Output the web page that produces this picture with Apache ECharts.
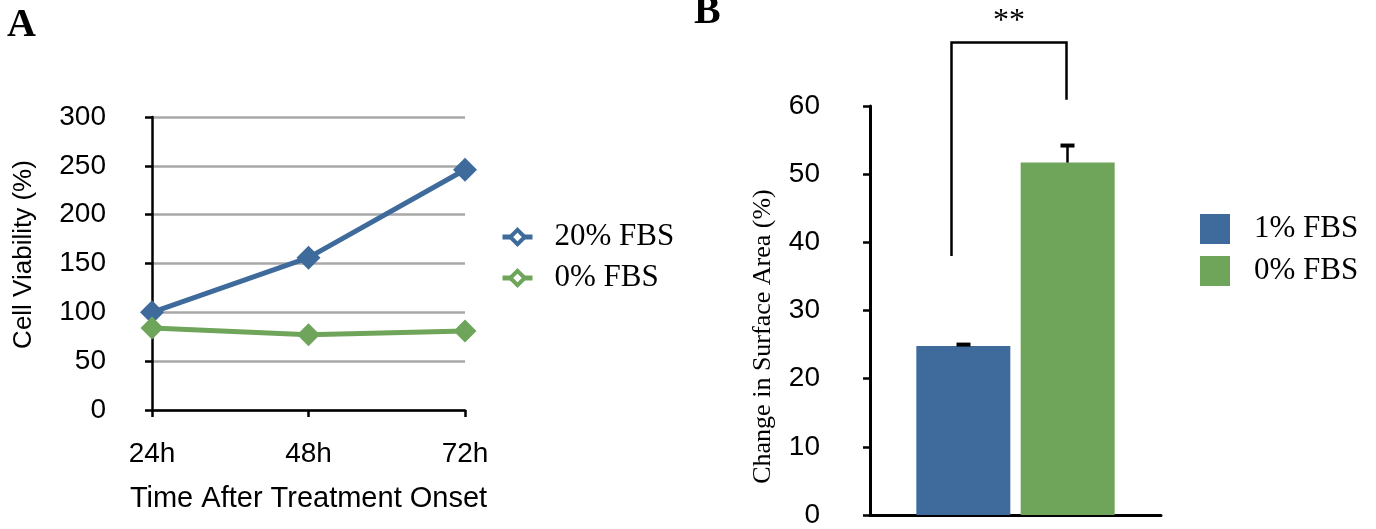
<!DOCTYPE html>
<html>
<head>
<meta charset="utf-8">
<title>Cell viability / surface area</title>
<script src="https://cdn.jsdelivr.net/npm/echarts@6/dist/echarts.min.js"></script>
<style>
  html, body { margin: 0; padding: 0; background: #fff; }
  #main { width: 1376px; height: 529px; }
</style>
</head>
<body>
<div id="main"></div>
<script>
// panel A data
var timeLabels = ['24h', '48h', '72h'];
var fbs20 = [100, 156, 246];
var fbs0 = [84, 77, 81];
var viabilityTicks = [0, 300, 50];   // min, max, interval

// panel B data
var barNames = ['1% FBS', '0% FBS'];
var areaMean = [24.8, 51.7];
var areaUpper = [25.0, 54.2];
var areaTicks = [0, 60, 10];
// significance bracket: left leg bottom, right leg bottom, top
var bracket = [38.0, 60.9, 69.3];
var bracketLabel = '**';

var BLUE = '#3e6b9b';
var GREEN = '#6ea55a';
var SANS = 'Liberation Sans, Arial, sans-serif';
var SERIF = 'Liberation Serif, Times New Roman, serif';
var BAR_W = 94, BAR_GAP = 10;

function barCenterOffset(i) {
  // two bars side by side in a single category
  return (i === 0 ? -1 : 1) * (BAR_W + BAR_GAP) / 2;
}

var option = {
  animation: false,
  backgroundColor: '#fff',
  graphic: [
    { type: 'text', left: 7, top: 6, style: { text: 'A', font: 'bold 40px ' + SERIF, fill: '#000' } },
    { type: 'text', left: 694, top: -7, style: { text: 'B', font: 'bold 40px ' + SERIF, fill: '#000' } }
  ],
  grid: [
    { left: 152, right: 911, top: 117, bottom: 119 },
    { left: 870, right: 215, top: 106, bottom: 11 }
  ],
  legend: [
    {
      orient: 'vertical',
      left: 500, top: 221, padding: 0,
      itemWidth: 30, itemHeight: 18, itemGap: 9,
      textStyle: { fontFamily: SERIF, fontSize: 31, color: '#000', lineHeight: 32, padding: [0, 0, 0, 17] },
      data: [
        { name: '20% FBS', itemStyle: { color: '#fff', borderColor: BLUE, borderWidth: 4 }, lineStyle: { width: 5 } },
        { name: '0% FBS', itemStyle: { color: '#fff', borderColor: GREEN, borderWidth: 4 }, lineStyle: { width: 5 } }
      ]
    },
    {
      orient: 'vertical',
      left: 1200, top: 213, padding: 0,
      itemWidth: 30, itemHeight: 30, itemGap: 10,
      icon: 'rect',
      textStyle: { fontFamily: SERIF, fontSize: 31, color: '#000', lineHeight: 32, padding: [0, 0, 0, 19] },
      data: barNames
    }
  ],
  xAxis: [
    {
      gridIndex: 0,
      type: 'category',
      data: timeLabels,
      boundaryGap: false,
      name: 'Time After Treatment Onset',
      nameLocation: 'middle',
      nameGap: 74,
      nameTextStyle: { fontFamily: SANS, fontSize: 29, color: '#000' },
      axisLine: { lineStyle: { color: '#000', width: 2.5 } },
      axisTick: { show: true, length: 7, lineStyle: { color: '#000', width: 2.5 } },
      axisLabel: { fontFamily: SANS, fontSize: 28, color: '#000', margin: 30 },
      splitLine: { show: false }
    },
    {
      gridIndex: 1,
      type: 'category',
      data: [''],
      axisLine: { lineStyle: { color: '#000', width: 3 } },
      axisTick: { show: false },
      axisLabel: { show: false },
      splitLine: { show: false }
    }
  ],
  yAxis: [
    {
      gridIndex: 0,
      type: 'value',
      min: viabilityTicks[0], max: viabilityTicks[1], interval: viabilityTicks[2],
      name: 'Cell Viability (%)',
      nameLocation: 'middle',
      nameGap: 115,
      nameTextStyle: { fontFamily: SANS, fontSize: 26, color: '#000', padding: [0, 0, 0, 18] },
      axisLine: { show: true, lineStyle: { color: '#000', width: 2.5 } },
      axisTick: { show: true, length: 7, lineStyle: { color: '#000', width: 2.5 } },
      axisLabel: { fontFamily: SANS, fontSize: 28, color: '#000', margin: 46 },
      splitLine: { show: true, lineStyle: { color: '#a8a8a8', width: 2.5 } }
    },
    {
      gridIndex: 1,
      type: 'value',
      min: areaTicks[0], max: areaTicks[1], interval: areaTicks[2],
      name: 'Change in Surface Area (%)',
      nameLocation: 'middle',
      nameGap: 94,
      nameTextStyle: { fontFamily: SERIF, fontSize: 26, color: '#000', padding: [0, 52, 0, 0] },
      axisLine: { show: true, lineStyle: { color: '#000', width: 3 } },
      axisTick: { show: true, length: 7, lineStyle: { color: '#000', width: 2.5 } },
      axisLabel: { fontFamily: SANS, fontSize: 28, color: '#000', margin: 50 },
      splitLine: { show: false }
    }
  ],
  series: [
    {
      name: '20% FBS',
      type: 'line',
      xAxisIndex: 0, yAxisIndex: 0,
      data: fbs20,
      symbol: 'diamond', symbolSize: 24,
      color: BLUE,
      lineStyle: { color: BLUE, width: 5 },
      itemStyle: { color: BLUE }
    },
    {
      name: '0% FBS',
      type: 'line',
      xAxisIndex: 0, yAxisIndex: 0,
      data: fbs0,
      symbol: 'diamond', symbolSize: 23,
      color: GREEN,
      lineStyle: { color: GREEN, width: 5 },
      itemStyle: { color: GREEN }
    },
    {
      name: barNames[0],
      type: 'bar',
      xAxisIndex: 1, yAxisIndex: 1,
      data: [areaMean[0]],
      barWidth: BAR_W, barGap: '11%',
      itemStyle: { color: BLUE }
    },
    {
      name: barNames[1],
      type: 'bar',
      xAxisIndex: 1, yAxisIndex: 1,
      data: [areaMean[1]],
      barWidth: BAR_W, barGap: '11%',
      itemStyle: { color: GREEN }
    },
    {
      // error bars (upper only)
      type: 'custom',
      xAxisIndex: 1, yAxisIndex: 1,
      data: areaMean.map(function (m, i) { return [i, m, areaUpper[i]]; }),
      z: 5,
      renderItem: function (params, api) {
        var i = api.value(0);
        var base = api.coord([0, api.value(1)]);
        var top = api.coord([0, api.value(2)]);
        var x = base[0] + barCenterOffset(i);
        return {
          type: 'group',
          children: [
            { type: 'line', shape: { x1: x, y1: base[1], x2: x, y2: top[1] }, style: { stroke: '#000', lineWidth: 2.5 } },
            { type: 'line', shape: { x1: x - 7, y1: top[1], x2: x + 7, y2: top[1] }, style: { stroke: '#000', lineWidth: 4 } }
          ]
        };
      }
    },
    {
      // significance bracket
      type: 'custom',
      xAxisIndex: 1, yAxisIndex: 1,
      clip: false,
      data: [bracket],
      z: 5,
      renderItem: function (params, api) {
        var leftBottom = api.coord([0, api.value(0)]);
        var rightBottom = api.coord([0, api.value(1)]);
        var top = api.coord([0, api.value(2)]);
        var xl = leftBottom[0] + barCenterOffset(0) - 12;
        var xr = leftBottom[0] + barCenterOffset(1) - 1;
        return {
          type: 'group',
          children: [
            { type: 'polyline', shape: { points: [[xl, leftBottom[1]], [xl, top[1]], [xr, top[1]], [xr, rightBottom[1]]] },
              style: { stroke: '#000', lineWidth: 2.5, fill: null } },
            { type: 'text', x: (xl + xr) / 2, y: top[1] - 21,
              style: { text: bracketLabel, font: '32px ' + SERIF, fill: '#000', align: 'center', verticalAlign: 'middle' } }
          ]
        };
      }
    }
  ]
};

var myChart = echarts.init(document.getElementById('main'));
myChart.setOption(option);
</script>
</body>
</html>
